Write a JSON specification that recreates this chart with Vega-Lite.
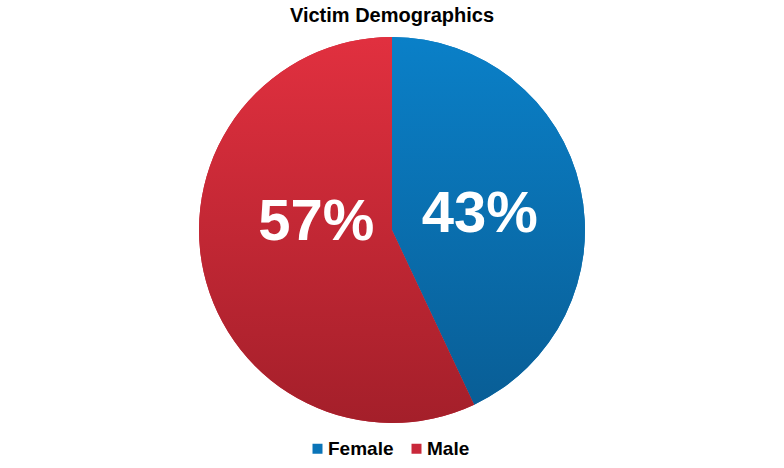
{
  "$schema": "https://vega.github.io/schema/vega-lite/v6.json",
  "width": 784,
  "height": 460,
  "autosize": "none",
  "padding": {"left": 0, "right": 0, "top": 0, "bottom": 8},
  "background": "white",
  "title": {
    "text": "Victim Demographics",
    "font": "Liberation Sans",
    "fontSize": 20,
    "fontWeight": "bold",
    "color": "black",
    "anchor": "middle",
    "offset": -26
  },
  "data": {
    "values": [
      {"gender": "Female", "pct": 0.43},
      {"gender": "Male", "pct": 0.57}
    ]
  },
  "config": {"view": {"stroke": null}},
  "layer": [
    {
      "mark": {"type": "arc", "outerRadius": 193},
      "encoding": {
        "theta": {"field": "pct", "type": "quantitative", "stack": true},
        "order": {"field": "gender", "type": "nominal"},
        "color": {
          "field": "gender",
          "type": "nominal",
          "scale": {"domain": ["Female", "Male"], "range": ["#0a74b8", "#c9283a"]},
          "legend": {
            "title": null,
            "orient": "none",
            "legendX": 308,
            "legendY": 439,
            "direction": "horizontal",
            "symbolType": "square",
            "symbolSize": 100,
            "symbolStrokeWidth": 0,
            "labelFont": "Liberation Sans",
            "labelFontSize": 19,
            "labelFontWeight": "bold",
            "labelColor": "black",
            "labelOffset": 1,
            "columnPadding": 13
          }
        }
      }
    },
    {
      "mark": {"type": "arc", "outerRadius": 193},
      "encoding": {
        "theta": {"field": "pct", "type": "quantitative", "stack": true},
        "order": {"field": "gender", "type": "nominal"},
        "fill": {
          "condition": {
            "test": "datum.gender === 'Female'",
            "value": {
              "gradient": "linear", "x1": 0, "y1": 0, "x2": 0, "y2": 1,
              "stops": [{"offset": 0, "color": "#0a80c8"}, {"offset": 1, "color": "#095e96"}]
            }
          },
          "value": {
            "gradient": "linear", "x1": 0, "y1": 0, "x2": 0, "y2": 1,
            "stops": [{"offset": 0, "color": "#e1303f"}, {"offset": 1, "color": "#a41f2a"}]
          }
        }
      }
    },
    {
      "mark": {"type": "text", "radius": 89, "thetaOffset": 0.05, "font": "Liberation Sans", "fontSize": 58, "fontWeight": "bold", "fill": "white", "baseline": "middle", "align": "center"},
      "encoding": {
        "theta": {"field": "pct", "type": "quantitative", "stack": true},
        "order": {"field": "gender", "type": "nominal"},
        "text": {
          "condition": {"test": "datum.gender === 'Female'", "field": "pct", "type": "quantitative", "format": ".0%"},
          "value": ""
        }
      }
    },
    {
      "mark": {"type": "text", "radius": 76, "thetaOffset": 0.31, "font": "Liberation Sans", "fontSize": 58, "fontWeight": "bold", "fill": "white", "baseline": "middle", "align": "center"},
      "encoding": {
        "theta": {"field": "pct", "type": "quantitative", "stack": true},
        "order": {"field": "gender", "type": "nominal"},
        "text": {
          "condition": {"test": "datum.gender === 'Male'", "field": "pct", "type": "quantitative", "format": ".0%"},
          "value": ""
        }
      }
    }
  ]
}
